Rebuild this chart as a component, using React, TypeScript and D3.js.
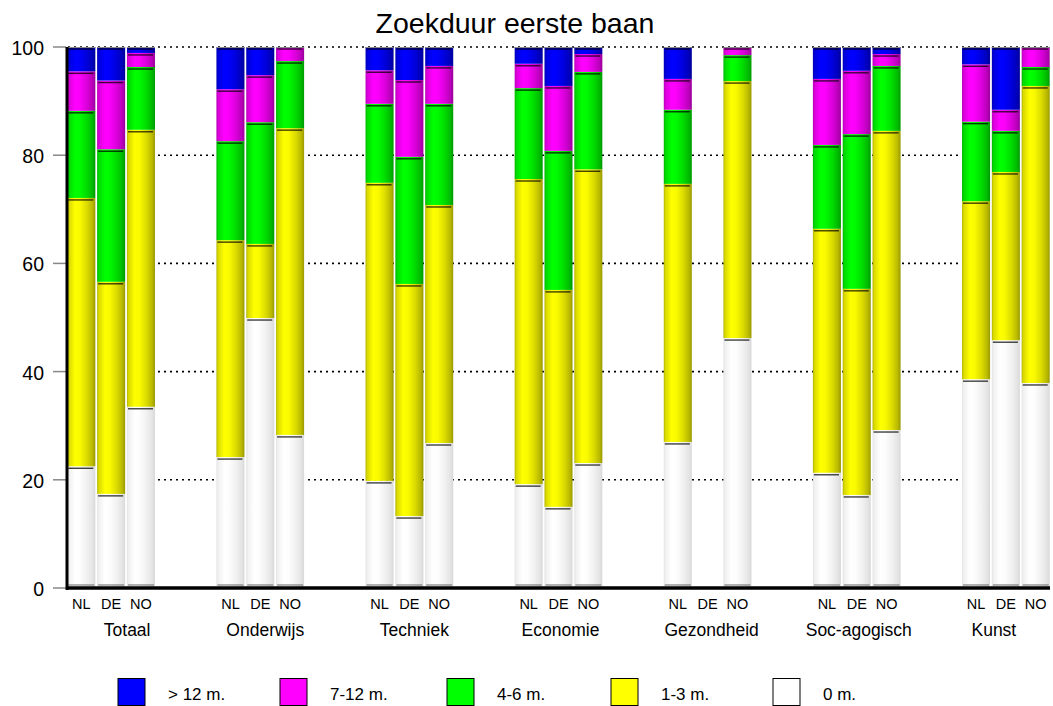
import React from "react";
import * as d3 from "d3";

const title = "Zoekduur eerste baan";
const groups = ["Totaal", "Onderwijs", "Techniek", "Economie", "Gezondheid", "Soc-agogisch", "Kunst"];
const countries = ["NL", "DE", "NO"];
const seriesNames = ["0 m.", "1-3 m.", "4-6 m.", "7-12 m.", "> 12 m."];
const seriesColors = ["#ffffff", "#ffff00", "#00ff00", "#ff00ff", "#0000ff"];
const yTicks = [0, 20, 40, 60, 80, 100];

// Order per series: group x country (NL, DE, NO)
const m0 = [22.5, 17.4, 33.5, 24.2, 49.9, 28.3, 19.8, 13.3, 26.8, 19.2, 15.0, 23.1, 27.0, 0, 46.2, 21.3, 17.2, 29.2, 38.6, 45.8, 37.9];
const m1to3 = [49.6, 39.2, 51.2, 40.1, 13.7, 56.7, 55.1, 42.9, 44.0, 56.4, 40.1, 54.3, 47.7, 0, 47.5, 45.1, 38.1, 55.3, 32.9, 31.1, 54.9];
const m4to6 = [16.1, 24.5, 11.6, 18.3, 22.5, 12.4, 14.6, 23.5, 18.7, 16.8, 25.7, 18.0, 13.7, 0, 4.8, 15.5, 28.6, 12.0, 14.7, 7.6, 3.5];
const m7to12 = [7.3, 12.7, 2.6, 9.6, 8.7, 2.6, 6.2, 14.2, 7.0, 4.5, 12.0, 3.3, 5.7, 0, 1.5, 12.2, 11.7, 2.2, 10.6, 3.9, 3.7];
const mOver12 = [4.5, 6.2, 1.1, 7.8, 5.2, 0, 4.3, 6.1, 3.5, 3.1, 7.2, 1.3, 5.9, 0, 0, 5.9, 4.4, 1.3, 3.2, 11.6, 0];
const seriesValues = [m0, m1to3, m4to6, m7to12, mOver12];

const W = 1053, H = 706;
const groupLabelOffsets = [16, 5, 5, 2, 4, 2, -12];
const legendX = [118, 280, 447, 611, 773];

function shade(c: string, k: number) {
  const col = d3.rgb(c);
  return d3.rgb(col.r * k, col.g * k, col.b * k).formatHex();
}

export default function App() {
  const slots: string[] = [];
  groups.forEach((g, i) => {
    countries.forEach((c) => slots.push(g + "|" + c));
    if (i < groups.length - 1) { slots.push(g + "|gap1"); slots.push(g + "|gap2"); }
  });
  const x = d3.scaleBand<string>().domain(slots).range([67, 1050]).paddingInner(0.06).paddingOuter(0.01);
  const y = d3.scaleLinear().domain([0, 100]).range([588, 47]);
  const bw = x.bandwidth();

  const rows = groups.flatMap((g, gi) => countries.map((c, ci) => {
    const idx = gi * 3 + ci;
    const vals = seriesValues.map((s) => s[idx]);
    return { g, c, vals };
  }));

  const stacked = rows.map((r) => {
    let acc = 0;
    return r.vals.map((v, si) => {
      const y0 = acc; acc += v;
      return { si, y0, y1: acc, v };
    });
  });

  const gradStops = [
    [0, 0.7], [0.06, 0.85], [0.28, 1.0], [0.45, 0.98], [0.7, 0.86], [0.9, 0.72], [1, 0.6],
  ];

  return (
    <svg width={W} height={H} style={{ display: "block", position: "absolute", left: 0, top: 0 }} fontFamily="Liberation Sans, Arial, sans-serif">
      <defs>
        {seriesColors.map((c, i) => (
          <linearGradient key={i} id={"g" + i} x1="0" x2="1" y1="0" y2="0">
            {gradStops.map(([o, k], j) => (
              <stop key={j} offset={o} stopColor={i === 0 ? shade("#ffffff", 0.62 + 0.38 * k) : shade(c, k)} />
            ))}
          </linearGradient>
        ))}
      </defs>
      <rect width={W} height={H} fill="#fff" />
      <text x={515} y={33} textAnchor="middle" fontSize={28.5} fill="#000">{title}</text>

      {/* grid */}
      {yTicks.filter((t) => t > 0).map((t) => (
        <line key={t} x1={68} x2={1050} y1={y(t)} y2={y(t)} stroke="#000" strokeWidth={1.6} strokeDasharray="2,4" />
      ))}

      {/* bars */}
      {rows.map((r, ri) => {
        const bx = x(r.g + "|" + r.c)!;
        return (
          <g key={ri}>
            {stacked[ri].filter((s) => s.v > 0).map((s) => (
              <rect key={s.si} x={bx} y={y(s.y1)} width={bw} height={y(s.y0) - y(s.y1)} fill={`url(#g${s.si})`} />
            ))}
            {stacked[ri].filter((s) => s.v > 0).map((s) => (
              <line key={"l" + s.si} x1={bx + 1} x2={bx + bw - 2} y1={y(s.y1) + 2} y2={y(s.y1) + 2} stroke="#000" strokeOpacity={0.75} strokeWidth={1.4} />
            ))}
            {r.vals.some((v) => v > 0) && (
              <>
                <line x1={bx} x2={bx + bw} y1={y(100) + 0.5} y2={y(100) + 0.5} stroke="#888" strokeWidth={1} />
                <line x1={bx + 1} x2={bx + bw - 1} y1={y(0) - 3} y2={y(0) - 3} stroke="#666" strokeWidth={1} />
              </>
            )}
          </g>
        );
      })}

      {/* axes */}
      {yTicks.map((t) => (
        <g key={t}>
          <line x1={53} x2={66} y1={y(t)} y2={y(t)} stroke="#888" strokeWidth={1.5} />
          <text x={44} y={y(t) + 8} textAnchor="end" fontSize={19.5} fill="#000">{t}</text>
        </g>
      ))}
      <line x1={67} x2={67} y1={47} y2={590} stroke="#000" strokeWidth={3} />
      <line x1={66} x2={1050} y1={588} y2={588} stroke="#000" strokeWidth={3.5} />

      {/* category labels */}
      {rows.map((r, ri) => (
        <text key={ri} x={x(r.g + "|" + r.c)! + bw / 2} y={609} textAnchor="middle" fontSize={14.5} fill="#000">{r.c}</text>
      ))}
      {groups.map((g, gi) => (
        <text key={g} x={x(g + "|DE")! + bw / 2 + groupLabelOffsets[gi]} y={636} textAnchor="middle" fontSize={17.5} fill="#000">{g}</text>
      ))}

      {/* legend */}
      {seriesNames.slice().reverse().map((n, i) => {
        const si = seriesNames.length - 1 - i;
        const lx = legendX[i];
        return (
          <g key={n}>
            <rect x={lx} y={678.5} width={27} height={27} fill={seriesColors[si]} stroke="#000" strokeWidth={1} />
            <text x={lx + 50} y={700} fontSize={17} fill="#000">{n}</text>
          </g>
        );
      })}
    </svg>
  );
}
